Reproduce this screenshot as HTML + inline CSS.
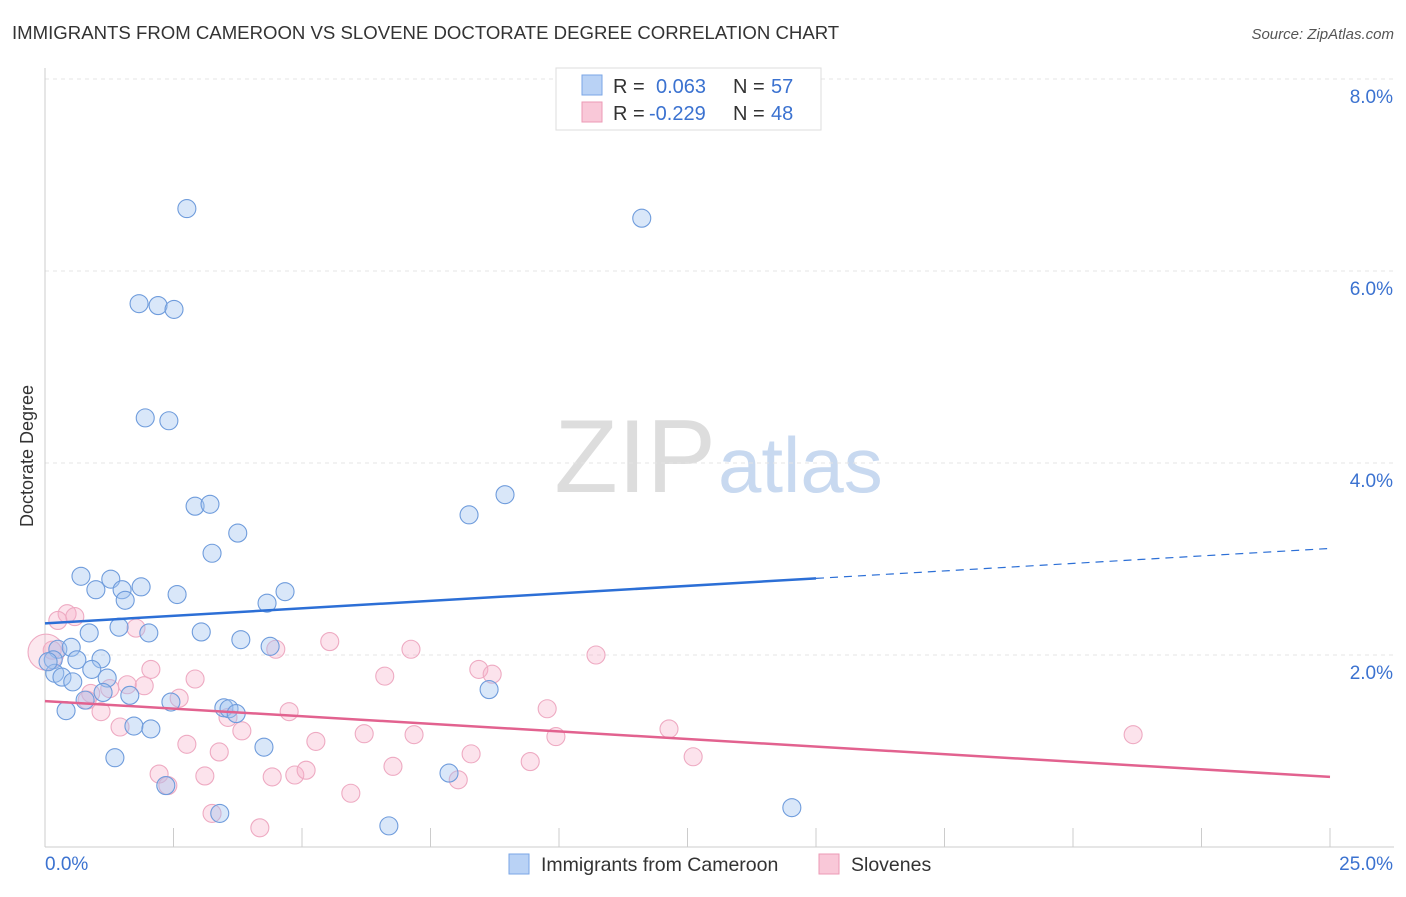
<!DOCTYPE html>
<html><head><meta charset="utf-8"><style>
body{margin:0;background:#fff;font-family:"Liberation Sans",sans-serif;}
svg text{font-family:"Liberation Sans",sans-serif;}
</style></head><body>
<svg id="chart" width="1406" height="892" xmlns="http://www.w3.org/2000/svg">
<text x="12" y="39" font-size="18.6" fill="#333">IMMIGRANTS FROM CAMEROON VS SLOVENE DOCTORATE DEGREE CORRELATION CHART</text>
<text x="1394" y="39" font-size="15" fill="#555" text-anchor="end" font-style="italic">Source: ZipAtlas.com</text>
<text x="716" y="492" font-size="104" fill="#ddd" text-anchor="end" font-family="Liberation Serif">ZIP</text>
<text x="718" y="492" font-size="78" fill="#c8d9f0">atlas</text>
<g id="grid"></g>
<g id="axes"></g>
<g id="pts"></g>
<g id="trend"></g>
<text transform="translate(33,456) rotate(-90)" font-size="18" fill="#333" text-anchor="middle">Doctorate Degree</text>
<g>
<rect x="556" y="68" width="265" height="62" fill="#fff" stroke="#ddd"/>
<rect x="582" y="75" width="20" height="20" fill="#b9d2f5" stroke="#7aa6e6"/>
<text x="613" y="93" font-size="20" fill="#333">R =</text><text x="656" y="93" font-size="20" fill="#3b72d0">0.063</text>
<text x="733" y="93" font-size="20" fill="#333">N =</text><text x="771" y="93" font-size="20" fill="#3b72d0">57</text>
<rect x="582" y="102" width="20" height="20" fill="#f9c8d8" stroke="#ec9ab6"/>
<text x="613" y="120" font-size="20" fill="#333">R =</text><text x="649" y="120" font-size="20" fill="#3b72d0">-0.229</text>
<text x="733" y="120" font-size="20" fill="#333">N =</text><text x="771" y="120" font-size="20" fill="#3b72d0">48</text>
</g>
<g>
<rect x="509" y="854" width="20" height="20" fill="#b9d2f5" stroke="#7aa6e6"/>
<text x="541" y="871" font-size="19.5" fill="#333">Immigrants from Cameroon</text>
<rect x="819" y="854" width="20" height="20" fill="#f9c8d8" stroke="#ec9ab6"/>
<text x="851" y="871" font-size="19.5" fill="#333">Slovenes</text>
</g>
</svg>
<script>
const blueX=[2.76,11.61,1.83,2.20,2.51,1.95,2.41,2.92,3.21,3.75,3.25,8.25,8.95,0.70,1.28,1.87,0.99,1.50,1.56,2.57,4.32,4.67,1.44,2.02,0.86,3.04,3.81,4.38,0.25,0.51,0.16,0.62,1.09,0.91,0.19,0.33,0.54,1.21,1.65,1.13,2.45,0.78,3.48,3.58,3.72,8.64,0.41,1.73,2.06,4.26,1.36,7.86,2.35,3.40,6.69,14.53,0.06];
const blueY=[6.65,6.55,5.66,5.64,5.60,4.47,4.44,3.55,3.57,3.27,3.06,3.46,3.67,2.82,2.79,2.71,2.68,2.68,2.57,2.63,2.54,2.66,2.29,2.23,2.23,2.24,2.16,2.09,2.06,2.08,1.95,1.95,1.96,1.85,1.81,1.77,1.72,1.76,1.58,1.61,1.51,1.53,1.45,1.44,1.39,1.64,1.42,1.26,1.23,1.04,0.93,0.77,0.64,0.35,0.22,0.41,1.93];
const pinkX=[0.43,0.58,0.25,0.14,1.77,4.49,5.54,7.12,10.72,8.44,8.70,6.61,2.06,2.92,0.89,1.26,1.60,1.93,2.61,0.82,1.09,3.56,4.75,9.77,12.14,1.46,3.83,5.27,2.76,3.39,6.21,7.18,9.94,8.29,9.44,12.61,21.17,2.22,3.11,4.42,4.86,5.08,6.77,2.39,8.04,5.95,3.25,4.18,0.02];
const pinkY=[2.43,2.40,2.36,2.05,2.28,2.06,2.14,2.06,2.00,1.85,1.80,1.78,1.85,1.75,1.60,1.65,1.69,1.68,1.55,1.53,1.41,1.35,1.41,1.44,1.23,1.25,1.21,1.10,1.07,0.99,1.18,1.17,1.15,0.97,0.89,0.94,1.17,0.76,0.74,0.73,0.75,0.80,0.84,0.64,0.70,0.56,0.35,0.20,2.03];
const yTicks=[2,4,6,8];
const yTickLabels=["2.0%","4.0%","6.0%","8.0%"];
const xTicks=[0,2.5,5,7.5,10,12.5,15,17.5,20,22.5,25];
const blueTrend=[2.33,3.11];
const pinkTrend=[1.52,0.73];
const blueSolidEnd=15;
const NS="http://www.w3.org/2000/svg";
const sx=v=>45+v*51.4, sy=v=>847-v*96;
function mk(tag,attrs,parent){const e=document.createElementNS(NS,tag);for(const k in attrs)e.setAttribute(k,attrs[k]);document.getElementById(parent).appendChild(e);return e;}
yTicks.forEach((t,i)=>{
 const g=mk('line',{x1:45,x2:1394,y1:sy(t),y2:sy(t),stroke:'#e4e4e4','stroke-dasharray':'4,4'},'grid');
 
 
 const l=mk('text',{x:1393,y:sy(t)+24,'font-size':19,fill:'#3b72d0','text-anchor':'end'},'axes');
 l.textContent=yTickLabels[i];
 
 
});
const ax=mk('line',{x1:45,x2:45,y1:68,y2:847,stroke:'#ccc'},'axes');


const bx=mk('line',{x1:45,x2:1394,y1:847,y2:847,stroke:'#ccc'},'axes');


xTicks.forEach(t=>{
 const tk=mk('line',{x1:sx(t),x2:sx(t),y1:828,y2:847,stroke:'#ccc'},'axes');
 
 
});
const x0=mk('text',{x:45,y:870,'font-size':19,fill:'#3b72d0'},'axes');x0.textContent="0.0%";


const x1=mk('text',{x:1393,y:870,'font-size':19,fill:'#3b72d0','text-anchor':'end'},'axes');x1.textContent="25.0%";


pinkX.forEach((x,i)=>{
 const big=i==pinkX.length-1;
 const c=mk('circle',{cx:sx(x),cy:sy(pinkY[i]),r:big?18:9,fill:big?'rgba(246,176,200,0.3)':'rgba(246,176,200,0.35)',stroke:'#eeaac2','stroke-width':1.1},'pts');
 
 
});
blueX.forEach((x,i)=>{
 const c=mk('circle',{cx:sx(x),cy:sy(blueY[i]),r:9,fill:'rgba(160,195,240,0.4)',stroke:'#6f9cdc','stroke-width':1.1},'pts');
 
 
});
const by=x=>blueTrend[0]+(blueTrend[1]-blueTrend[0])*x/25;
const t1=mk('line',{x1:sx(0),y1:sy(by(0)),x2:sx(blueSolidEnd),y2:sy(by(blueSolidEnd)),stroke:'#2c6fd6','stroke-width':2.5},'trend');


const t2=mk('line',{x1:sx(blueSolidEnd),y1:sy(by(blueSolidEnd)),x2:sx(25),y2:sy(by(25)),stroke:'#2c6fd6','stroke-width':1.2,'stroke-dasharray':'8,6'},'trend');


const t3=mk('line',{x1:sx(0),y1:sy(pinkTrend[0]),x2:sx(25),y2:sy(pinkTrend[1]),stroke:'#e2628f','stroke-width':2.5},'trend');


</script>
</body></html>
